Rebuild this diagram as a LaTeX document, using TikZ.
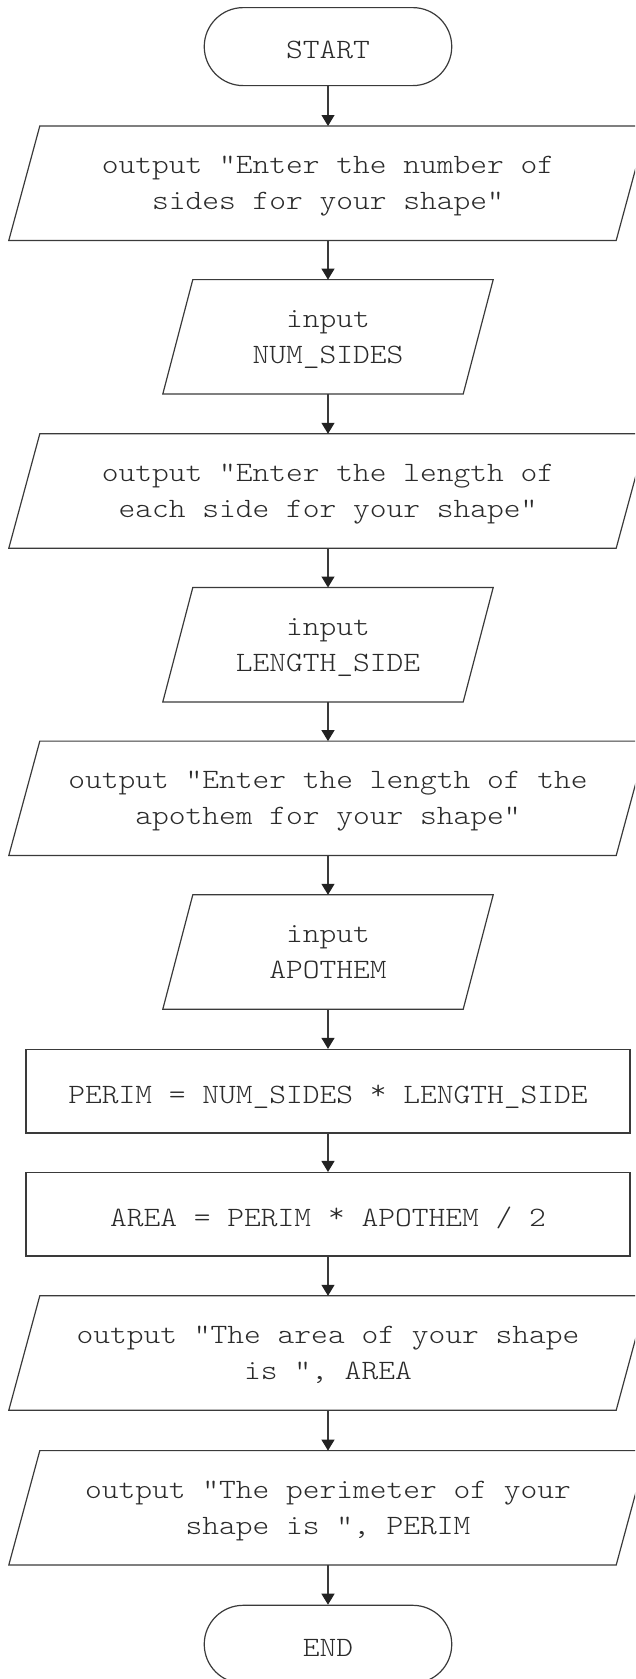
\documentclass[tikz,border=0pt]{standalone}
\usepackage{fontspec}
\newfontfamily\codefont{lmmonolt10-regular}[Extension=.otf, FakeStretch=1.14]
\usetikzlibrary{arrows.meta}
\definecolor{inkline}{HTML}{3A3A3A}
\definecolor{inktext}{HTML}{2A2A2A}
\definecolor{inktip}{HTML}{222222}
% outline of an input/output block: the node's box, sheared by #2 on each side
\newcommand\slantbox[2]{%
  \draw[inkline, line width=1.2pt, line join=miter]
    ([xshift=-#2]#1.south west) -- ([xshift=#2]#1.north west) --
    ([xshift=#2]#1.north east) -- ([xshift=-#2]#1.south east) -- cycle;}
% invisible struts fixing where the text lines sit inside a block
\newcommand\toprule[1]{\rule{0pt}{#1}}
\newcommand\botrule[1]{\rule[-#1]{0pt}{0pt}}
% multiplication sign set high, as in a typewriter face
\newcommand\highstar{\raisebox{3.5pt}{*}}
\begin{document}
\begin{tikzpicture}[x=1pt, y=-1pt,
  every node/.style={font=\codefont\fontsize{28}{36}\selectfont, text=inktext,
    align=center, inner sep=0pt},
  oneline/.style={execute at begin node={\toprule{31pt}},
    execute at end node={\botrule{7pt}}},
  twoline/.style={execute at begin node={\toprule{60.5pt}},
    execute at end node={\botrule{7.5pt}}},
  term/.style={oneline, draw=inkline, line width=1.2pt, rounded corners=39pt,
    minimum width=247.5pt, minimum height=78pt},
  wideio/.style={twoline, minimum width=607pt, minimum height=114pt},
  narrowio/.style={twoline, minimum width=300pt, minimum height=114pt},
  procbox/.style={oneline, draw=inkline, line width=1.2pt, minimum width=604pt,
    minimum height=83.5pt},
  flow/.style={draw=inkline, line width=1.2pt,
    -{Triangle[width=13pt, length=11pt, fill=inktip, color=inktip]}},
]
\useasboundingbox (0,0) rectangle (635,1679);
\clip (0,0) rectangle (635,1679);

\node[term] (start) at (328,46.6) {START};
\node[wideio] (p1) at (328,183.2) {output "Enter the number of\\sides for your shape"};
\node[narrowio] (i1) at (328,336.8) {input\\NUM\_SIDES};
\node[wideio] (p2) at (328,491) {output "Enter the length of\\each side for your shape"};
\node[narrowio] (i2) at (328,644.7) {input\\LENGTH\_SIDE};
\node[wideio] (p3) at (328,798.3) {output "Enter the length of the\\apothem for your shape"};
\node[narrowio] (i3) at (328,952) {input\\APOTHEM};
\node[procbox] (r1) at (328,1091.2) {PERIM = NUM\_SIDES \highstar{} LENGTH\_SIDE};
\node[procbox] (r2) at (328,1214.3) {AREA = PERIM \highstar{} APOTHEM / 2};
\node[wideio] (p4) at (328,1353) {output "The area of your shape\\is ", AREA};
\node[wideio] (p5) at (328,1507.8) {output "The perimeter of your\\shape is ", PERIM};
\node[term] (stop) at (328,1644.3) {END};

\slantbox{p1}{15.5pt}
\slantbox{p2}{15.5pt}
\slantbox{p3}{15.5pt}
\slantbox{p4}{15.5pt}
\slantbox{p5}{15.5pt}
\slantbox{i1}{15pt}
\slantbox{i2}{15pt}
\slantbox{i3}{15pt}

\draw[flow] (start) -- (p1);
\draw[flow] (p1) -- (i1);
\draw[flow] (i1) -- (p2);
\draw[flow] (p2) -- (i2);
\draw[flow] (i2) -- (p3);
\draw[flow] (p3) -- (i3);
\draw[flow] (i3) -- (r1);
\draw[flow] (r1) -- (r2);
\draw[flow] (r2) -- (p4);
\draw[flow] (p4) -- (p5);
\draw[flow] (p5) -- (stop);
\end{tikzpicture}
\end{document}
